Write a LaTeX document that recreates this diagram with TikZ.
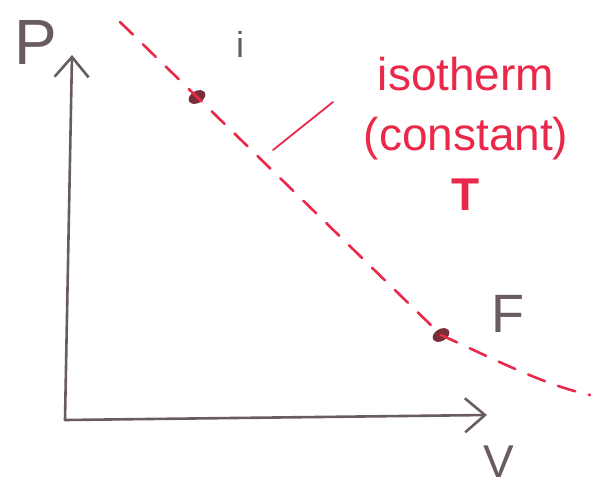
\documentclass[tikz,border=0pt]{standalone}
\usepackage{fontspec}
\setmainfont{Liberation Sans}
\usetikzlibrary{arrows.meta,shapes.geometric}
\definecolor{penred}{RGB}{234,40,74}
\definecolor{pengray}{RGB}{104,92,98}
\definecolor{pendot}{RGB}{120,46,54}

\begin{document}
\begin{tikzpicture}[x=1pt, y=-1pt, every node/.style={pengray}, >={Straight Barb[length=20pt,width=34pt]},
	axis/.style={pengray, line width=2.6pt, ->, line cap=round},
	isoline/.style={penred, line width=2.6pt, dash pattern=on 18pt off 14pt, line cap=round},
	point/.style={ellipse, fill=pendot, inner sep=0pt, minimum width=18pt, minimum height=12pt, rotate=30}]
	\useasboundingbox (0,0) rectangle (596,495);
	\coordinate (O) at (65,420);
	\coordinate (ytip) at (72,55);
	\coordinate (xtip) at (487,415);
	\coordinate (isoStart) at (120,22);
	\coordinate (isoEnd) at (590,395);
	\coordinate (leadA) at (273,150);
	\coordinate (leadB) at (333,102);
	\draw[axis] (O) -- (ytip);
	\draw[axis] (O) -- (xtip);
	\node[point] (ipt) at (197,97) {};
	\node[point] (fpt) at (441,335) {};
	\draw[isoline] (isoStart) -- (ipt.center) -- (fpt.center) .. controls (500,362) and (545,385) .. (isoEnd);
	\draw[penred, line width=1.8pt, line cap=round] (leadA) -- (leadB);
	\node[font=\fontsize{64}{64}\selectfont] (plabel) at (36,42) {P};
	\node[font=\fontsize{36}{36}\selectfont] (ilabel) at (240,44) {i};
	\node[font=\fontsize{54}{54}\selectfont] (flabel) at (508,314) {F};
	\node[font=\fontsize{46}{46}\selectfont] (vlabel) at (499,462) {V};
	\node[penred, align=center, font=\fontsize{46}{60}\selectfont] (isolabel) at (466,134) {isotherm\\(constant)\\\textbf{T}};
\end{tikzpicture}
\end{document}
